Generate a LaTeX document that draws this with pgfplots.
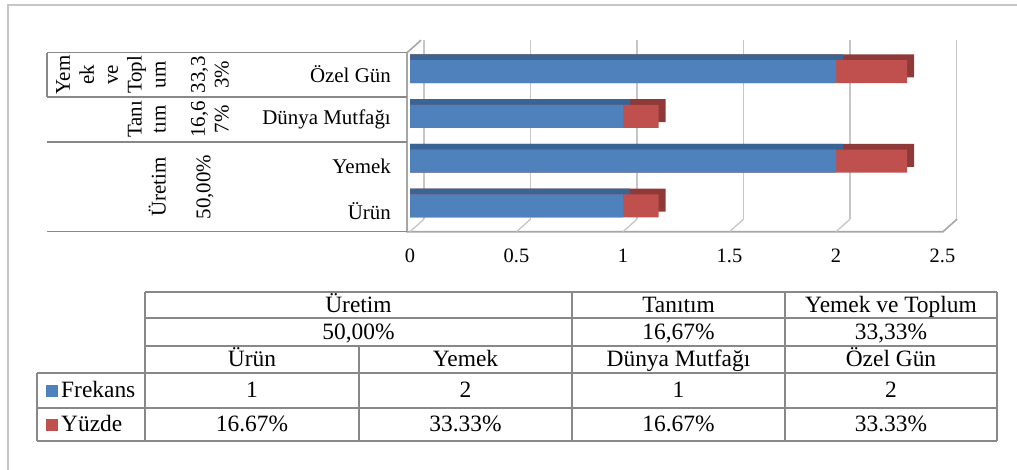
\documentclass[border=0pt]{standalone}
\usepackage{fontspec}
\setmainfont{Liberation Serif}
\usepackage{pgfplots}
\usepackage{pgfplotstable}
\pgfplotsset{compat=1.18}
\definecolor{barblue}{HTML}{4F81BD}
\definecolor{barred}{HTML}{C0504D}
\definecolor{topblue}{HTML}{3A6494}
\definecolor{topred}{HTML}{8E3A38}
\definecolor{gridgray}{HTML}{C6C6C6}
\definecolor{axisgray}{HTML}{A6A6A6}
\definecolor{tabgray}{HTML}{888888}
\newcommand\flab{\fontsize{21}{24}\selectfont}
\newcommand\ftick{\fontsize{20.5}{22}\selectfont}
\newcommand\ftab{\fontsize{23.5}{26}\selectfont}

% y: 0 = Ürün, 1 = Yemek, 2 = Dünya Mutfağı, 3 = Özel Gün
\pgfplotstableread{
y f p
0 1 0.1667
1 2 0.3333
2 1 0.1667
3 2 0.3333
}\bardata

\begin{document}
\begin{tikzpicture}
\useasboundingbox (0,0) rectangle (1017bp,-470bp);

\begin{axis}[
  scale only axis, width=532.5bp, height=179bp,
  at={(410bp,-231.7bp)}, anchor=south west,
  xmin=0, xmax=2.5, ymin=-0.5, ymax=3.5,
  xtick={0,0.5,1,1.5,2,2.5}, ytick=\empty,
  xmajorgrids,
  major grid style={draw=gridgray, line width=1.3bp, shift={(14bp,12.5bp)}},
  axis line style={draw=none}, major tick length=0pt,
  xticklabel style={font=\ftick, yshift=-14bp},
  /pgf/number format/assume math mode=true,
  clip=false,
  bar width=23bp,
]
% depth faces (shifted copies behind the front)
\addplot[xbar, bar shift=9.2bp, fill=topred, draw=none]
  table[y=y, x expr=\thisrow{f}+\thisrow{p}+0.033] {\bardata};
\addplot[xbar, bar shift=9.2bp, fill=topblue, draw=none]
  table[y=y, x expr=\thisrow{f}+0.033] {\bardata};
% front faces
\addplot[xbar, bar shift=3.5bp, fill=barred, draw=none]
  table[y=y, x expr=\thisrow{f}+\thisrow{p}] {\bardata};
\addplot[xbar, bar shift=3.5bp, fill=barblue, draw=none]
  table[y=y, x=f] {\bardata};
\end{axis}

\begin{scope}[x=1bp,y=-1bp]
% outer frame
\draw[gridgray, line width=1.5bp] (8,470) -- (8,5) -- (1017,5);
% walls
\draw[axisgray, line width=1.6bp] (407,52.7) -- (407,231.7) -- (943,231.7) -- (957,219.2);
\draw[axisgray, line width=1.6bp] (407,52.7) -- (421,40.2);
\foreach \k in {0,...,4} \draw[gridgray, line width=1.3bp] ({410+106.5*\k},231.7) -- ++(14,-12.5);

% multi-level category labels
\draw[tabgray, line width=1.5bp] (47,52.7) -- (407,52.7) (47,97) -- (407,97)
  (47,142) -- (407,142) (47,231.7) -- (407,231.7) (47,52.7) -- (47,97);
\begin{scope}[every node/.style={font=\flab, inner sep=0pt}]
\node[rotate=90, anchor=south, align=center] at (166,74.8) {Yem\\ek\\ve\\Topl\\um};
\node[rotate=90, anchor=south, align=center] at (166,119.3) {Tanı\\tım};
\node[rotate=90, anchor=south, align=center] at (166,187) {Üretim};
\node[rotate=90, align=center] at (210,74.8) {33,3\\3\%};
\node[rotate=90, align=center] at (210,119.3) {16,6\\7\%};
\node[rotate=90, align=center] at (205,187) {50,00\%};
\node[anchor=east] at (391,74) {Özel Gün};
\node[anchor=east] at (391,119) {Dünya Mutfağı};
\node[anchor=east] at (391,166) {Yemek};
\node[anchor=east] at (391,211) {Ürün};
\end{scope}

% data table
\begin{scope}[tabgray, line width=1.5bp]
\draw (145,292) -- (997,292) (145,318) -- (997,318) (145,346) -- (997,346);
\draw (37,373) -- (997,373) (37,408) -- (997,408) (37,441) -- (997,441);
\draw (145,292) -- (145,441) (572,292) -- (572,441) (785,292) -- (785,441) (997,292) -- (997,441);
\draw (359,346) -- (359,441) (37,373) -- (37,441);
\end{scope}
\begin{scope}[yshift=-5bp, every node/.style={font=\ftab, inner sep=0pt, text height=0.68em, text depth=0.2em}]
\node at (358.5,305) {Üretim};
\node at (678.5,305) {Tanıtım};
\node at (891,305) {Yemek ve Toplum};
\node at (358.5,332) {50,00\%};
\node at (678.5,332) {16,67\%};
\node at (891,332) {33,33\%};
\node at (252,359.5) {Ürün};
\node at (465.5,359.5) {Yemek};
\node at (678.5,359.5) {Dünya Mutfağı};
\node at (891,359.5) {Özel Gün};
\node at (252,390.5) {1};
\node at (465.5,390.5) {2};
\node at (678.5,390.5) {1};
\node at (891,390.5) {2};
\node at (252,424.5) {16.67\%};
\node at (465.5,424.5) {33.33\%};
\node at (678.5,424.5) {16.67\%};
\node at (891,424.5) {33.33\%};
\node[anchor=west] at (61,390.5) {Frekans};
\node[anchor=west] at (61,424.5) {Yüzde};
\end{scope}
\fill[barblue] (46,385) rectangle (58,397);
\fill[barred] (46,419) rectangle (58,431);
\end{scope}
\end{tikzpicture}
\end{document}
